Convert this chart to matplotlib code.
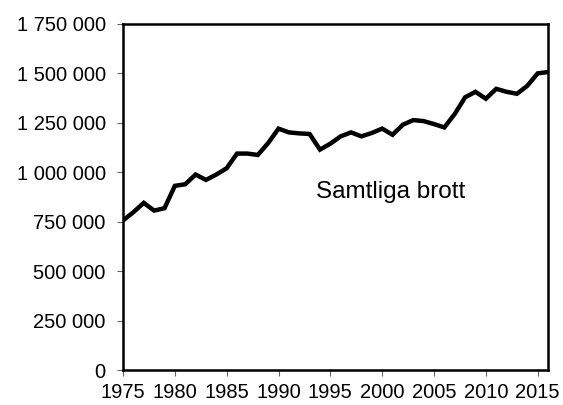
import matplotlib
matplotlib.use("Agg")
import matplotlib.pyplot as plt
from matplotlib.ticker import FuncFormatter

years = list(range(1975, 2017))
values = [756000, 798000, 845000, 806000, 818000, 931000, 939000, 988000, 961000, 988000,
          1020000, 1094000, 1094000, 1087000, 1147000, 1220000, 1201000, 1196000, 1193000, 1114000,
          1144000, 1181000, 1201000, 1181000, 1198000, 1220000, 1189000, 1240000, 1263000, 1258000,
          1243000, 1226000, 1294000, 1378000, 1406000, 1371000, 1421000, 1406000, 1396000, 1436000,
          1499000, 1506000]
label = "Samtliga brott"

plt.rcParams['font.family'] = ['Liberation Sans', 'DejaVu Sans']
fig = plt.figure(figsize=(5.63, 4.05), dpi=100)
ax = fig.add_axes([0.2185, 0.086, 0.7549, 0.8555])
ax.plot(years, values, color='black', linewidth=3.2, solid_joinstyle='miter')
ax.set_xlim(1975, 2016)
ax.set_ylim(0, 1750000)
ax.set_xticks(range(1975, 2016, 5))
ax.set_yticks(range(0, 1750001, 250000))
ax.yaxis.set_major_formatter(FuncFormatter(lambda v, p: f"{int(v):,}".replace(",", " ")))
ax.tick_params(axis='both', labelsize=14.5, direction='out', length=4, width=0.8, color='#666666')
ax.tick_params(axis='y', pad=8.5)
ax.tick_params(axis='x', pad=5)
for s in ax.spines.values():
    s.set_linewidth(1.8)
    s.set_color('black')
ax.text(1993.6, 872000, label, fontsize=17.5, va='baseline', ha='left')
fig.savefig("out.png", dpi=100)
